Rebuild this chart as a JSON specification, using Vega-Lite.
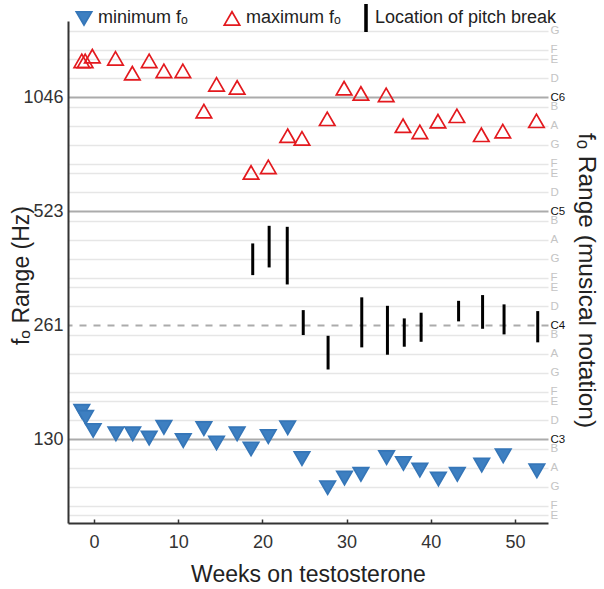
{
  "$schema": "https://vega.github.io/schema/vega-lite/v6.json",
  "width": 480,
  "height": 502,
  "autosize": {"type": "none"},
  "padding": {"left": 68, "top": 21, "right": 56, "bottom": 66},
  "background": "white",
  "config": {
    "font": "Liberation Sans",
    "view": {"stroke": null},
    "legend": {
      "labelFont": "Liberation Sans",
      "labelFontSize": 18,
      "labelColor": "#222",
      "labelLimit": 400,
      "symbolStrokeWidth": 1.7,
      "symbolSize": 240,
      "labelOffset": 5,
      "columnPadding": 32
    }
  },
  "datasets": {
    "points": [
      {"week": -1.45, "hz": 1307, "series": "maximum fₒ"},
      {"week": -1.05, "hz": 1307, "series": "maximum fₒ"},
      {"week": -0.2, "hz": 1345, "series": "maximum fₒ"},
      {"week": 2.55, "hz": 1327, "series": "maximum fₒ"},
      {"week": 4.55, "hz": 1213, "series": "maximum fₒ"},
      {"week": 6.55, "hz": 1307, "series": "maximum fₒ"},
      {"week": 8.3, "hz": 1230, "series": "maximum fₒ"},
      {"week": 10.55, "hz": 1230, "series": "maximum fₒ"},
      {"week": 13.05, "hz": 963, "series": "maximum fₒ"},
      {"week": 14.55, "hz": 1133, "series": "maximum fₒ"},
      {"week": 17.0, "hz": 1112, "series": "maximum fₒ"},
      {"week": 18.65, "hz": 663, "series": "maximum fₒ"},
      {"week": 20.7, "hz": 686, "series": "maximum fₒ"},
      {"week": 23.0, "hz": 829, "series": "maximum fₒ"},
      {"week": 24.7, "hz": 816, "series": "maximum fₒ"},
      {"week": 27.7, "hz": 919, "series": "maximum fₒ"},
      {"week": 29.7, "hz": 1107, "series": "maximum fₒ"},
      {"week": 31.7, "hz": 1072, "series": "maximum fₒ"},
      {"week": 34.7, "hz": 1063, "series": "maximum fₒ"},
      {"week": 36.7, "hz": 881, "series": "maximum fₒ"},
      {"week": 38.7, "hz": 849, "series": "maximum fₒ"},
      {"week": 40.85, "hz": 906, "series": "maximum fₒ"},
      {"week": 43.1, "hz": 936, "series": "maximum fₒ"},
      {"week": 46.0, "hz": 834, "series": "maximum fₒ"},
      {"week": 48.55, "hz": 853, "series": "maximum fₒ"},
      {"week": 52.55, "hz": 908, "series": "maximum fₒ"},
      {"week": -1.45, "hz": 155.1, "series": "minimum fₒ"},
      {"week": -1.0, "hz": 149.5, "series": "minimum fₒ"},
      {"week": -0.1, "hz": 138.1, "series": "minimum fₒ"},
      {"week": 2.6, "hz": 135.3, "series": "minimum fₒ"},
      {"week": 4.6, "hz": 135.3, "series": "minimum fₒ"},
      {"week": 6.55, "hz": 131.9, "series": "minimum fₒ"},
      {"week": 8.3, "hz": 140.8, "series": "minimum fₒ"},
      {"week": 10.6, "hz": 129.9, "series": "minimum fₒ"},
      {"week": 13.05, "hz": 139.6, "series": "minimum fₒ"},
      {"week": 14.55, "hz": 128.0, "series": "minimum fₒ"},
      {"week": 17.0, "hz": 135.3, "series": "minimum fₒ"},
      {"week": 18.65, "hz": 123.4, "series": "minimum fₒ"},
      {"week": 20.7, "hz": 133.1, "series": "minimum fₒ"},
      {"week": 23.0, "hz": 140.4, "series": "minimum fₒ"},
      {"week": 24.7, "hz": 116.4, "series": "minimum fₒ"},
      {"week": 27.75, "hz": 97.5, "series": "minimum fₒ"},
      {"week": 29.75, "hz": 103.4, "series": "minimum fₒ"},
      {"week": 31.7, "hz": 105.8, "series": "minimum fₒ"},
      {"week": 34.75, "hz": 117.1, "series": "minimum fₒ"},
      {"week": 36.75, "hz": 113.0, "series": "minimum fₒ"},
      {"week": 38.7, "hz": 108.5, "series": "minimum fₒ"},
      {"week": 40.9, "hz": 102.8, "series": "minimum fₒ"},
      {"week": 43.15, "hz": 105.8, "series": "minimum fₒ"},
      {"week": 46.05, "hz": 111.9, "series": "minimum fₒ"},
      {"week": 48.6, "hz": 118.3, "series": "minimum fₒ"},
      {"week": 52.6, "hz": 108.0, "series": "minimum fₒ"}
    ],
    "breaks": [
      {"week": 18.85, "lo": 355.2, "hi": 430.7, "series": "Location of pitch break"},
      {"week": 20.8, "lo": 372.2, "hi": 479.4, "series": "Location of pitch break"},
      {"week": 22.95, "lo": 335.6, "hi": 476.5, "series": "Location of pitch break"},
      {"week": 24.85, "lo": 246.7, "hi": 287.1, "series": "Location of pitch break"},
      {"week": 27.8, "lo": 200.1, "hi": 245.6, "series": "Location of pitch break"},
      {"week": 31.8, "lo": 228.9, "hi": 310.3, "series": "Location of pitch break"},
      {"week": 34.85, "lo": 218.9, "hi": 294.7, "series": "Location of pitch break"},
      {"week": 36.85, "lo": 229.8, "hi": 273.0, "series": "Location of pitch break"},
      {"week": 38.85, "lo": 236.8, "hi": 282.6, "series": "Location of pitch break"},
      {"week": 43.3, "lo": 268.1, "hi": 303.8, "series": "Location of pitch break"},
      {"week": 46.15, "lo": 256.3, "hi": 314.6, "series": "Location of pitch break"},
      {"week": 48.7, "lo": 247.7, "hi": 297.3, "series": "Location of pitch break"},
      {"week": 52.7, "lo": 236.0, "hi": 285.4, "series": "Location of pitch break"}
    ]
  },
  "layer": [
    {
      "data": {"name": "points"},
      "mark": {"type": "point", "opacity": 1, "strokeWidth": 1.7, "size": 240},
      "encoding": {
        "x": {
          "field": "week",
          "type": "quantitative",
          "scale": {"domain": [-3.09, 53.92], "nice": false, "zero": false},
          "axis": {
            "values": [0, 10, 20, 30, 40, 50],
            "title": "Weeks on testosterone",
            "grid": false,
            "domainColor": "#333",
            "domainWidth": 2,
            "tickColor": "#333",
            "tickWidth": 1.5,
            "tickSize": -4,
            "labelPadding": 14,
            "labelFontSize": 18,
            "labelColor": "#333",
            "labelFont": "Liberation Sans",
            "titleFont": "Liberation Sans",
            "titleFontSize": 23,
            "titleFontWeight": "normal",
            "titleColor": "#222",
            "titlePadding": 12
          }
        },
        "y": {
          "field": "hz",
          "type": "quantitative",
          "scale": {"type": "log", "domain": [78.66, 1666], "nice": false},
          "axis": {
            "orient": "left",
            "values": [130.8128, 261.6256, 523.2511, 1046.5023],
            "labelExpr": "floor(datum.value)",
            "labelOverlap": false,
            "grid": false,
            "ticks": false,
            "domainColor": "#333",
            "domainWidth": 2,
            "labelPadding": 5,
            "labelFontSize": 18,
            "labelColor": "#333",
            "labelFont": "Liberation Sans",
            "title": "fₒ Range (Hz)",
            "titleFont": "Liberation Sans",
            "titleFontSize": 23,
            "titleFontWeight": "normal",
            "titleColor": "#222",
            "titleX": -47,
            "titleY": 254,
            "titleBaseline": "middle",
            "titleAlign": "center",
            "titleAngle": -90
          }
        },
        "shape": {
          "field": "series",
          "type": "nominal",
          "scale": {
            "domain": ["minimum fₒ", "maximum fₒ"],
            "range": ["triangle-down", "triangle-up"]
          },
          "legend": {
            "title": null,
            "orient": "none",
            "direction": "horizontal",
            "legendX": 7,
            "legendY": -12
          }
        },
        "fill": {
          "field": "series",
          "type": "nominal",
          "scale": {
            "domain": ["minimum fₒ", "maximum fₒ"],
            "range": ["#3d7fc1", "transparent"]
          },
          "legend": {"title": null, "orient": "none", "direction": "horizontal", "legendX": 7, "legendY": -12}
        },
        "stroke": {
          "field": "series",
          "type": "nominal",
          "scale": {
            "domain": ["minimum fₒ", "maximum fₒ"],
            "range": ["#3576b8", "#e3191e"]
          },
          "legend": {"title": null, "orient": "none", "direction": "horizontal", "legendX": 7, "legendY": -12}
        }
      }
    },
    {
      "data": {"name": "breaks"},
      "mark": {"type": "rule", "color": "#000000", "strokeWidth": 3, "strokeCap": "butt"},
      "encoding": {
        "x": {"field": "week", "type": "quantitative"},
        "y": {
          "field": "lo",
          "type": "quantitative",
          "scale": {"type": "log", "domain": [78.66, 1666], "nice": false},
          "axis": {
            "orient": "right",
            "values": [82.41, 87.31, 98.0, 110.0, 123.47, 130.8128, 146.83, 164.81, 174.61, 196.0, 220.0, 246.94, 261.6256, 293.66, 329.63, 349.23, 392.0, 440.0, 493.88, 523.2511, 587.33, 659.26, 698.46, 783.99, 880.0, 987.77, 1046.5023, 1174.66, 1318.51, 1396.91, 1567.98],
            "labelExpr": "(round(12*log(datum.value/261.6256)/LN2) % 12 + 12) % 12 == 0 ? 'C' + (4 + floor(round(12*log(datum.value/261.6256)/LN2)/12)) : ['C','C#','D','D#','E','F','F#','G','G#','A','A#','B'][(round(12*log(datum.value/261.6256)/LN2) % 12 + 12) % 12]",
            "labelOverlap": false,
            "grid": true,
            "gridColor": {"condition": {"test": "round(12*log(datum.value/261.6256)/LN2) % 12 == 0", "value": "#ababab"}, "value": "#e6e6e6"},
            "gridWidth": {"condition": {"test": "round(12*log(datum.value/261.6256)/LN2) % 12 == 0", "value": 2.2}, "value": 1.6},
            "gridDash": {"condition": {"test": "abs(datum.value - 261.6256) < 1", "value": [7, 7]}, "value": []},
            "ticks": false,
            "domain": false,
            "labelPadding": 2,
            "labelFontSize": 11.5,
            "labelFont": "Liberation Sans",
            "labelColor": {"condition": {"test": "round(12*log(datum.value/261.6256)/LN2) % 12 == 0", "value": "#111111"}, "value": "#c4c4c4"},
            "title": "fₒ Range (musical notation)",
            "titleFont": "Liberation Sans",
            "titleFontSize": 24.5,
            "titleFontWeight": "normal",
            "titleColor": "#222",
            "titleX": 37,
            "titleY": 259,
            "titleBaseline": "middle",
            "titleAlign": "center",
            "titleAngle": 90
          }
        },
        "y2": {"field": "hi"},
        "opacity": {
          "field": "series",
          "type": "ordinal",
          "scale": {"domain": ["Location of pitch break"], "range": [1]},
          "legend": {
            "title": null,
            "orient": "none",
            "direction": "horizontal",
            "legendX": 289,
            "legendY": -12,
            "labelOffset": 0,
            "symbolType": "M-0.12,-1.7L0.12,-1.7L0.12,1.7L-0.12,1.7Z",
            "symbolFillColor": "#000000",
            "symbolStrokeColor": "#000000",
            "symbolStrokeWidth": 1.7,
            "symbolSize": 240
          }
        }
      }
    }
  ],
  "resolve": {"axis": {"y": "independent"}}
}
